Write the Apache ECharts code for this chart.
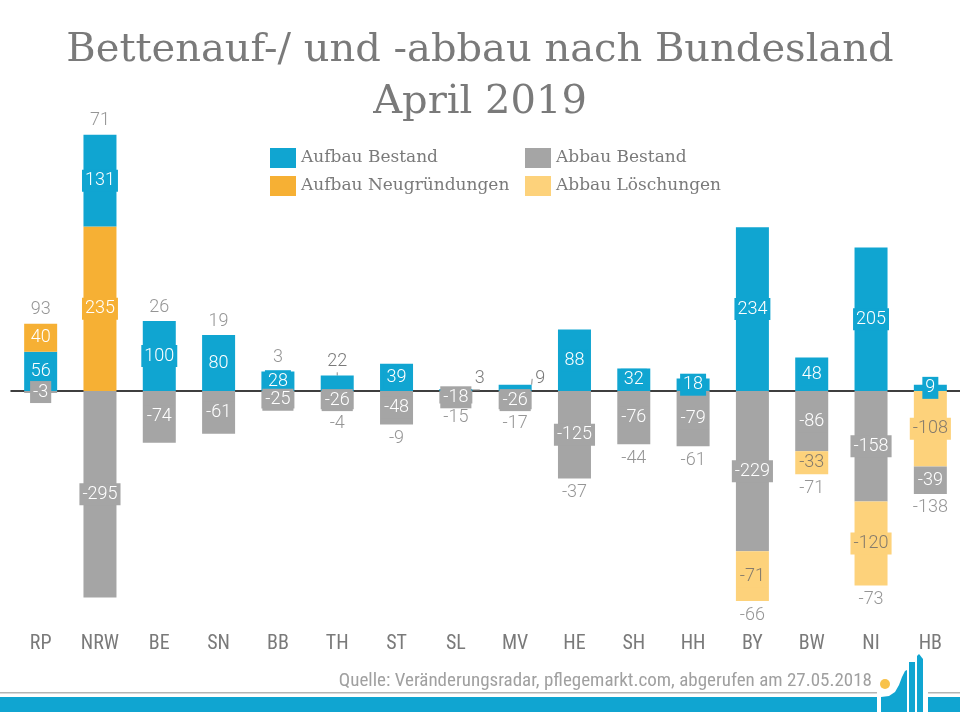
<!DOCTYPE html>
<html>
<head>
<meta charset="utf-8">
<script src="https://cdn.jsdelivr.net/npm/echarts@6/dist/echarts.min.js"></script>
<style>
html,body{margin:0;padding:0;background:#fff;}
#chart{width:960px;height:720px;}
</style>
</head>
<body>
<div id="chart"></div>
<script>
// ---- data ----
const categories = ['RP','NRW','BE','SN','BB','TH','ST','SL','MV','HE','SH','HH','BY','BW','NI','HB'];
const aufbauBestand = [56,131,100,80,28,22,39,3,9,88,32,18,234,48,205,9];
const aufbauNeugruendungen = [40,235,null,null,null,null,null,null,null,null,null,null,null,null,null,null];
const abbauBestand = [-3,-295,-74,-61,-25,-26,-48,-18,-26,-125,-76,-79,-229,-86,-158,-39];
const abbauLoeschungen = [null,null,null,null,null,null,null,null,null,null,null,null,-71,-33,-120,-108];
// categories where the stacking order differs
const neuBelowBestand = ['NRW'];
const loeschAboveBestand = ['HB'];

// ---- styles ----
const C_BLUE = '#10A5D1', C_ORANGE = '#F6B034', C_GREY = '#A5A5A5', C_LIGHT = '#FDD27B';
const TXT = '#7a7a7a';
const NUM_FONT = 'Roboto';
const NARROW = "'Liberation Sans Narrow', 'Roboto Condensed', Roboto";
const outsideBlue = { TH: [0, -22], SL: [24, -11], MV: [25, -9] };

function pick(arr, cond) { return arr.map((v, i) => cond(categories[i]) ? v : null); }

function segLabel(bg, color) {
  return {
    show: true, position: 'inside', color: color, backgroundColor: bg,
    textBorderWidth: 0, textBorderColor: 'transparent',
    padding: [2, 3], fontSize: 18, fontFamily: NUM_FONT, fontWeight: 300,
    formatter: p => p.value
  };
}

const posSum = categories.map((c, i) => (aufbauBestand[i] || 0) + (aufbauNeugruendungen[i] || 0));
const negSum = categories.map((c, i) => (abbauBestand[i] || 0) + (abbauLoeschungen[i] || 0));
const net = categories.map((c, i) => posSum[i] + negSum[i]);

const blueData = aufbauBestand.map((v, i) => {
  const c = categories[i];
  if (outsideBlue[c]) {
    return { value: v, label: { backgroundColor: 'transparent', color: TXT } };
  }
  return v;
});

const barBase = { type: 'bar', stack: 'total', barWidth: 33, z: 2, xAxisIndex: 0 };

const chart = echarts.init(document.getElementById('chart'), null, { renderer: 'canvas' });
chart.setOption({
  animation: false,
  backgroundColor: '#fff',
  title: {
    text: 'Bettenauf-/ und -abbau nach Bundesland\nApril 2019',
    left: 'center', top: 20,
    textStyle: { fontFamily: 'DejaVu Serif', fontWeight: 'normal', fontSize: 40, lineHeight: 52, color: TXT }
  },
  legend: [
    { left: 265, top: 143, orient: 'vertical', itemWidth: 26, itemHeight: 20, itemGap: 8, icon: 'rect',
      data: ['Aufbau Bestand', 'Aufbau Neugründungen'],
      textStyle: { fontFamily: 'DejaVu Serif', fontSize: 17, color: TXT } },
    { left: 520, top: 143, orient: 'vertical', itemWidth: 26, itemHeight: 20, itemGap: 8, icon: 'rect',
      data: ['Abbau Bestand', 'Abbau Löschungen'],
      textStyle: { fontFamily: 'DejaVu Serif', fontSize: 17, color: TXT } }
  ],
  grid: { left: 11, right: -1, top: 111, bottom: 119, containLabel: false },
  xAxis: [
    { type: 'category', data: categories, position: 'bottom',
      axisLine: { show: false, onZero: false }, axisTick: { show: false },
      axisLabel: { margin: 33, fontSize: 20, color: TXT, fontFamily: NARROW } },
    { type: 'category', data: categories, position: 'top',
      axisLine: { show: true, onZero: true, lineStyle: { color: '#000', width: 1.5 } },
      axisTick: { show: false }, axisLabel: { show: false } }
  ],
  yAxis: { type: 'value', min: -300, max: 400, show: false, splitLine: { show: false } },
  series: [
    Object.assign({}, barBase, { name: 'Aufbau Neugründungen', itemStyle: { color: C_ORANGE },
      data: pick(aufbauNeugruendungen, c => neuBelowBestand.includes(c)), label: segLabel(C_ORANGE, '#fff') }),
    Object.assign({}, barBase, { name: 'Aufbau Bestand', itemStyle: { color: C_BLUE },
      data: blueData, label: segLabel(C_BLUE, '#fff'),
      labelLine: { show: true, lineStyle: { color: '#8c8c8c', width: 1 }, length2: 0 },
      labelLayout: function (p) {
        const c = categories[p.dataIndex];
        if (outsideBlue[c]) return { dx: outsideBlue[c][0], dy: outsideBlue[c][1] };
        return {};
      } }),
    Object.assign({}, barBase, { name: 'Aufbau Neugründungen', itemStyle: { color: C_ORANGE },
      data: pick(aufbauNeugruendungen, c => !neuBelowBestand.includes(c)), label: segLabel(C_ORANGE, '#fff') }),
    Object.assign({}, barBase, { name: 'Abbau Löschungen', itemStyle: { color: C_LIGHT },
      data: pick(abbauLoeschungen, c => loeschAboveBestand.includes(c)), label: segLabel(C_LIGHT, '#857b6c') }),
    Object.assign({}, barBase, { name: 'Abbau Bestand', itemStyle: { color: C_GREY },
      data: abbauBestand, label: segLabel(C_GREY, '#fff') }),
    Object.assign({}, barBase, { name: 'Abbau Löschungen', itemStyle: { color: C_LIGHT },
      data: pick(abbauLoeschungen, c => !loeschAboveBestand.includes(c)), label: segLabel(C_LIGHT, '#857b6c') }),
    { type: 'scatter', name: 'Netto', symbolSize: 0, z: 5, silent: true, xAxisIndex: 0,
      data: categories.map((c, i) => ({
        value: [i, net[i] >= 0 ? posSum[i] : negSum[i]],
        label: { position: net[i] >= 0 ? 'top' : 'bottom' }
      })),
      label: { show: true, distance: 5, color: TXT, fontSize: 18, fontFamily: NUM_FONT, fontWeight: 300,
        formatter: p => String(net[p.dataIndex]) } }
  ],
  graphic: [
    { type: 'rect', shape: { x: 0, y: 692, width: 877, height: 1.5 }, style: { fill: '#b5b5b5' } },
    { type: 'rect', shape: { x: 928, y: 692, width: 32, height: 1.5 }, style: { fill: '#b5b5b5' } },
    { type: 'rect', shape: { x: 0, y: 697, width: 877, height: 15 }, style: { fill: C_BLUE } },
    { type: 'rect', shape: { x: 928, y: 697, width: 32, height: 15 }, style: { fill: C_BLUE } },
    { type: 'polygon', shape: { points: [[881,712],[881,697],[889,696],[895,692],[899,685],[902,677],[905,671],[907,670],[907,712]] }, style: { fill: C_BLUE } },
    { type: 'rect', shape: { x: 909, y: 662, width: 6, height: 50 }, style: { fill: C_BLUE } },
    { type: 'polygon', shape: { points: [[917,712],[917,656],[919,654],[923,659],[923,712]] }, style: { fill: C_BLUE } },
    { type: 'circle', shape: { cx: 885, cy: 684, r: 5 }, style: { fill: '#F8C24A' } },
    { type: 'text', right: 88, top: 672, style: { text: 'Quelle: Veränderungsradar, pflegemarkt.com, abgerufen am 27.05.2018',
      fill: '#a0a0a0', fontSize: 19, fontFamily: NARROW } }
  ]
});
</script>
</body>
</html>
